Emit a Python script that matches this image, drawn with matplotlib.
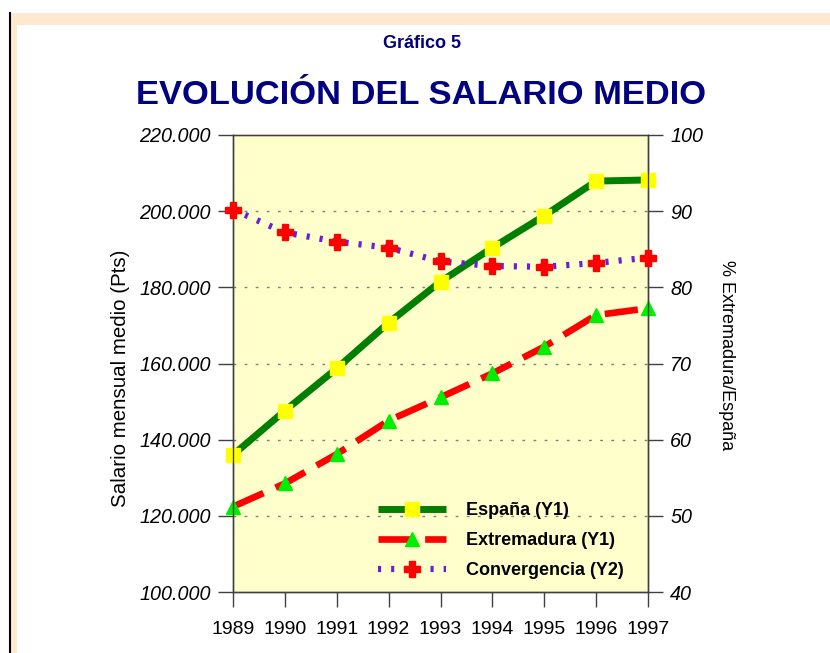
import matplotlib
matplotlib.use("Agg")
import matplotlib.pyplot as plt
from matplotlib.patches import Rectangle
from matplotlib.lines import Line2D
from matplotlib.ticker import FuncFormatter

years = [1989, 1990, 1991, 1992, 1993, 1994, 1995, 1996, 1997]
espana = [136000, 147600, 158700, 170700, 181500, 190400, 198800, 207900, 208200]
extremadura = [122400, 128500, 136200, 145000, 151100, 157400, 164400, 172700, 174500]
convergencia = [90.2, 87.2, 86.0, 85.2, 83.4, 82.8, 82.7, 83.2, 83.9]

y1_ticks = [100000, 120000, 140000, 160000, 180000, 200000, 220000]
y2_ticks = [40, 50, 60, 70, 80, 90, 100]

SANS = ['Liberation Sans', 'DejaVu Sans']
plt.rcParams['font.family'] = SANS

W, H = 830, 653
fig = plt.figure(figsize=(W / 100, H / 100), dpi=100)
fig.patch.set_facecolor('white')

peach = '#FFE8D0'
fig.patches.append(Rectangle((10 / W, 1 - 25 / H), 1 - 10 / W, 12 / H, transform=fig.transFigure,
                             facecolor=peach, edgecolor='none', zorder=0))
fig.patches.append(Rectangle((10 / W, 0), 7 / W, 1 - 13 / H, transform=fig.transFigure,
                             facecolor=peach, edgecolor='none', zorder=0))
fig.lines.append(Line2D([9.5 / W, 9.5 / W], [0, 1 - 13 / H], transform=fig.transFigure,
                        color='black', lw=1.5))

navy = '#000080'
fig.text(422 / W, 1 - 43 / H, 'Gráfico 5', ha='center', va='center', fontsize=13,
         fontweight='bold', color=navy)
fig.text(421 / W, 1 - 95 / H, 'EVOLUCIÓN DEL SALARIO MEDIO', ha='center', va='center',
         fontsize=24.8, fontweight='bold', color=navy)

ax = fig.add_axes([233 / W, 1 - 592 / H, 415 / W, 457 / H])
ax.set_facecolor('#FFFFCC')
ax2 = ax.twinx()

ax.set_xlim(1989, 1997)
ax.set_ylim(100000, 220000)
ax2.set_ylim(40, 100)

for yv in y1_ticks[1:-1]:
    ax.axhline(yv, color='#808080', lw=1.0, linestyle=(0, (2, 6)), zorder=1)

l1, = ax.plot(years, espana, color='#007F00', lw=5, marker='s', markersize=10,
              markerfacecolor='#FFFF00', markeredgecolor='#FFFF00', zorder=4,
              solid_capstyle='butt', clip_on=False, label='España (Y1)')
l2, = ax.plot(years, extremadura, color='#FF0000', lw=4.8, dashes=(5, 2), marker='^',
              markersize=10, markerfacecolor='#00EE00', markeredgecolor='#00EE00',
              zorder=4, dash_capstyle='butt', clip_on=False, label='Extremadura (Y1)')
l3, = ax2.plot(years, convergencia, color='#6A1ED8', lw=4.5, dashes=(0.5, 1.6), marker='P',
               markersize=11, markerfacecolor='#FF0000', markeredgecolor='#FF0000',
               zorder=3, dash_capstyle='butt', clip_on=False, label='Convergencia (Y2)')

ax.set_xticks(years)
ax.set_yticks(y1_ticks)
ax2.set_yticks(y2_ticks)
ax.yaxis.set_major_formatter(FuncFormatter(lambda v, p: f'{int(v):,}'.replace(',', '.')))

for lab in ax.get_xticklabels():
    lab.set_fontsize(14)
for lab in ax.get_yticklabels() + ax2.get_yticklabels():
    lab.set_fontsize(14.2)
    lab.set_style('italic')

ax.tick_params(axis='x', direction='out', length=11, width=1, color='#404040', pad=10)
ax.tick_params(axis='y', direction='out', length=11, width=1, color='#404040', pad=5)
ax2.tick_params(axis='y', direction='out', length=11, width=1, color='#404040', pad=5)

for a in (ax, ax2):
    for s in a.spines.values():
        s.set_color('#404040')
        s.set_linewidth(1.0)
ax.spines['top'].set_color('#909090')

fig.text(120 / W, 1 - 378 / H, 'Salario mensual medio (Pts)', rotation=90, ha='center',
         va='center', fontsize=14.8)
fig.text(727 / W, 1 - 355 / H, '% Extremadura/España', rotation=-90, ha='center',
         va='center', fontsize=13)

leg = ax2.legend(handles=[l1, l2, l3], loc='center left', bbox_to_anchor=(0.349, 0.112),
                 frameon=False, borderpad=0, borderaxespad=0, numpoints=1,
                 handlelength=3.8, handletextpad=1.1, labelspacing=0.72,
                 prop={'weight': 'bold', 'size': 13})

fig.savefig('out.png', dpi=100)
